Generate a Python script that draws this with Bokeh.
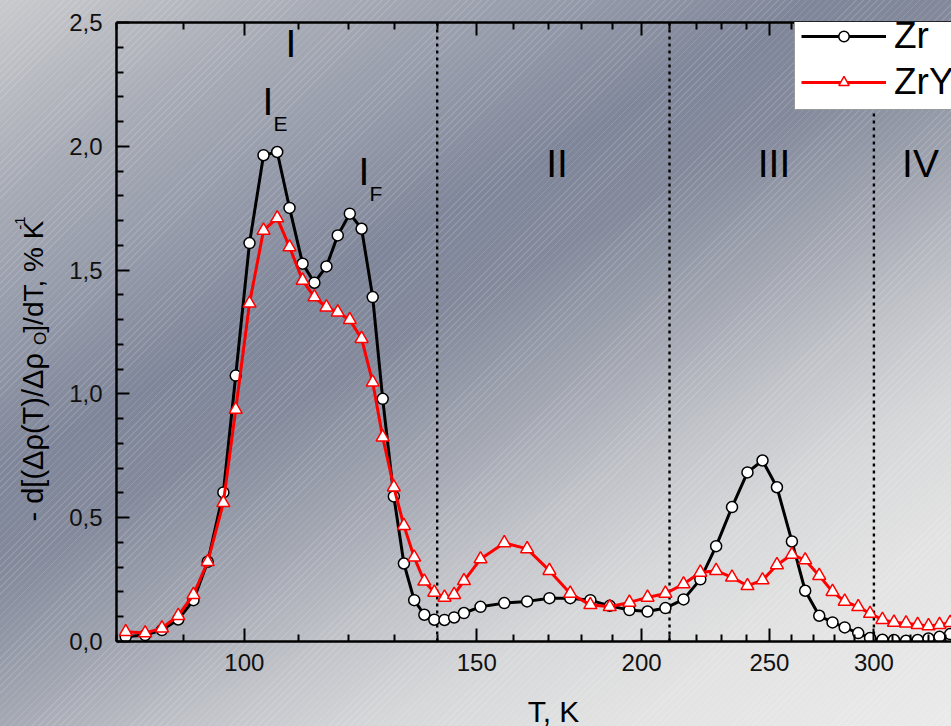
import math
from bokeh.plotting import figure
from bokeh.layouts import column, row
from bokeh.models import (ColumnDataSource, Range1d, FixedTicker, LogAxis, Span, Label,
                          Legend, LegendItem, CustomJSTickFormatter, PrintfTickFormatter)
from bokeh.embed import file_html
from bokeh.resources import INLINE

# ---------------- data ----------------
temperature_K = [81.3, 84.1, 86.6, 89.1, 91.5, 93.8, 96.4, 98.5, 100.9, 103.4,
                 105.9, 108.2, 110.7, 113.0, 115.4, 117.7, 120.2, 122.7, 125.1, 127.3,
                 129.8, 132.1, 134.5, 136.9, 139.3, 141.8, 144.2, 146.7, 151.0, 157.4,
                 163.8, 170.3, 176.6, 182.9, 189.2, 195.8, 202.1, 208.5, 215.2, 221.6,
                 227.8, 234.2, 240.6, 247.0, 253.3, 260.0, 266.1, 272.7, 279.1, 285.1,
                 291.9, 298.0, 304.5, 310.7, 317.3, 323.8, 330.0, 336.4, 342.7]
zr_rate = [0.019, 0.026, 0.046, 0.089, 0.167, 0.322, 0.602, 1.074, 1.609, 1.964,
           1.977, 1.751, 1.526, 1.449, 1.515, 1.640, 1.728, 1.667, 1.391, 0.980,
           0.586, 0.315, 0.167, 0.108, 0.088, 0.087, 0.097, 0.115, 0.140, 0.155,
           0.162, 0.175, 0.175, 0.167, 0.144, 0.127, 0.121, 0.135, 0.170, 0.251,
           0.385, 0.543, 0.683, 0.731, 0.623, 0.404, 0.205, 0.104, 0.077, 0.057,
           0.034, 0.014, 0.007, 0.006, 0.003, 0.006, 0.012, 0.019, 0.030]
zry_rate = [0.039, 0.034, 0.054, 0.104, 0.189, 0.322, 0.560, 0.937, 1.366, 1.660,
            1.710, 1.593, 1.458, 1.391, 1.350, 1.330, 1.299, 1.223, 1.047, 0.825,
            0.623, 0.468, 0.340, 0.243, 0.198, 0.178, 0.189, 0.245, 0.333, 0.398,
            0.374, 0.286, 0.194, 0.148, 0.140, 0.158, 0.178, 0.194, 0.232, 0.279,
            0.286, 0.259, 0.225, 0.248, 0.309, 0.351, 0.329, 0.266, 0.201, 0.162,
            0.140, 0.113, 0.088, 0.077, 0.074, 0.068, 0.063, 0.068, 0.076]

x_major_ticks = [100, 150, 200, 250, 300]
x_minor_ticks = [80, 90, 110, 120, 130, 140, 160, 170, 180, 190, 210, 220, 230, 240,
                 260, 270, 280, 290, 310, 320, 330, 340]
y_major_ticks = [0.0, 0.5, 1.0, 1.5, 2.0, 2.5]
y_minor_ticks = [0.1, 0.2, 0.3, 0.4, 0.6, 0.7, 0.8, 0.9, 1.1, 1.2, 1.3, 1.4,
                 1.6, 1.7, 1.8, 1.9, 2.1, 2.2, 2.3, 2.4]
stage_bounds = [140, 210, 300]
series_names = ["Zr", "ZrY"]

# ---------------- layout (pixels) ----------------
W, H = 951, 726
YLW = 60            # width of the strip holding the y title
XLH = 44            # height of the strip holding the x title
MH = H - XLH        # height of the main figure
FL, FR, FT, FB = 116, 951, 22, 641   # frame box in page pixels
X0, X1 = 80.0, 343.5
Y0, Y1 = 0.0, 2.5
FONT = "Liberation Sans"
MID = 0.35          # distance baseline -> middle of the text box, in em


def tx(px):
    return X0 * (X1 / X0) ** ((px - FL) / (FR - FL))


def ty(py):
    return Y0 + (FB - py) / (FB - FT) * (Y1 - Y0)


p = figure(width=W - YLW, height=MH, x_axis_type="log", title=None,
           x_range=Range1d(X0, X1), y_range=Range1d(Y0, Y1),
           output_backend="svg", toolbar_location=None,
           min_border_left=FL - YLW, min_border_right=W - FR,
           min_border_top=FT, min_border_bottom=MH - FB)

p.background_fill_color = None
p.border_fill_color = None
p.outline_line_color = None
p.xgrid.grid_line_color = None
p.ygrid.grid_line_color = None


def style_axis(ax):
    ax.axis_line_width = 2.5
    ax.axis_line_color = "black"
    ax.major_tick_line_width = 2
    ax.minor_tick_line_width = 2
    ax.major_tick_in = 13
    ax.major_tick_out = 0
    ax.minor_tick_in = 7
    ax.minor_tick_out = 0
    ax.major_label_text_font = FONT
    ax.major_label_text_font_size = "24px"
    ax.major_label_text_color = "#111111"
    ax.major_label_standoff = 12


style_axis(p.xaxis[0])
style_axis(p.yaxis[0])
p.xaxis[0].ticker = FixedTicker(ticks=x_major_ticks, minor_ticks=x_minor_ticks)
p.xaxis[0].formatter = PrintfTickFormatter(format="%d")
p.yaxis[0].ticker = FixedTicker(ticks=y_major_ticks, minor_ticks=y_minor_ticks)
p.yaxis[0].formatter = CustomJSTickFormatter(code="return tick.toFixed(1).replace('.', ',');")
p.yaxis[0].major_label_standoff = 14

top = LogAxis(ticker=FixedTicker(ticks=x_major_ticks, minor_ticks=x_minor_ticks))
style_axis(top)
top.major_label_text_font_size = "0px"
top.major_label_standoff = 0
top.formatter = CustomJSTickFormatter(code="return '';")
p.add_layout(top, "above")

# stage boundaries
for b in stage_bounds:
    s = Span(location=b, dimension="height", line_color="black", line_width=2.4,
             line_dash="3 4", level="underlay")
    p.add_layout(s)

src = ColumnDataSource(dict(T=temperature_K, zr=zr_rate, zry=zry_rate))

l1 = p.line("T", "zr", source=src, line_color="black", line_width=3)
m1 = p.scatter("T", "zr", source=src, marker="circle", size=11, fill_color="white",
               line_color="black", line_width=1.5)
l2 = p.line("T", "zry", source=src, line_color="#ff0000", line_width=3)
m2 = p.scatter("T", "zry", source=src, marker="triangle", size=13, fill_color="white",
               line_color="#ff0000", line_width=1.5)

legend = Legend(items=[LegendItem(label=series_names[0], renderers=[l1, m1]),
                       LegendItem(label=series_names[1], renderers=[l2, m2])],
                location=(678, 531))
legend.label_text_font = FONT
legend.label_text_font_size = "37px"
legend.label_text_color = "black"
legend.glyph_width = 85
legend.glyph_height = 26
legend.label_standoff = 8
legend.padding = 6
legend.spacing = 4
legend.margin = 0
legend.border_line_color = "#333333"
legend.border_line_width = 1.5
legend.background_fill_color = "white"
legend.background_fill_alpha = 1.0
p.add_layout(legend, "center")


def lab(text, cx, baseline, size):
    # centred text; cx = horizontal centre, baseline = page pixel of the baseline
    p.add_layout(Label(x=tx(cx), y=ty(baseline - MID * size), x_units="data", y_units="data",
                       text=text, text_font=FONT, text_font_size=f"{size}px",
                       text_color="black", text_align="center", text_baseline="middle"))


# stage annotations
lab("I", 290.5, 57, 39)
lab("I", 267.5, 115, 39)
lab("E", 280, 130, 21)
lab("I", 363.5, 185, 39)
lab("F", 375.4, 200, 21)
lab("II", 556.5, 177, 39)
lab("III", 773.5, 177, 39)
lab("IV", 920, 177, 39)


def strip(w, h):
    f = figure(width=w, height=h, x_range=Range1d(0, w), y_range=Range1d(0, h),
               title=None, output_backend="svg", toolbar_location=None,
               x_axis_location=None, y_axis_location=None, min_border=0)
    f.background_fill_color = None
    f.border_fill_color = None
    f.outline_line_color = None
    f.xgrid.visible = False
    f.ygrid.visible = False
    return f


def put(f, h, text, cx, cy, size, angle=0.0):
    # cx, cy: centre of the text box, pixels from the strip's top-left corner
    f.add_layout(Label(x=cx, y=h - cy, text=text, text_font=FONT, text_font_size=f"{size}px",
                       text_color="black", text_align="center", text_baseline="middle",
                       angle=angle))


# y title strip: rotated pieces (text, size, baseline x, centre y along the page)
yf = strip(YLW, MH)
A = math.pi / 2
pieces = [
    ("- d[(Δρ(T)/Δρ", 29, 43, 457.0),
    ("O", 17, 46, 348.0),
    ("]/dT, % K", 28, 43, 280.0),
    ("-1", 15, 25, 221.0),
]
for text, size, bx, cy in pieces:
    put(yf, MH, text, bx - MID * size, cy, size, A)

# x title strip
xf = strip(W, XLH)
put(xf, XLH, "T, K", 553, 721 - MID * 30 - MH, 30)

layout = column(row(yf, p, spacing=0), xf, spacing=0)
layout.styles = {
    "background": (
        "repeating-linear-gradient(135deg, rgba(255,255,255,0.13) 0px, "
        "rgba(255,255,255,0.13) 1px, rgba(255,255,255,0) 1px, rgba(255,255,255,0) 5px), "
        "linear-gradient(150deg, #c9cacd 0%, #a7abb5 15%, #979cab 25%, #7f8699 37%, "
        "#848a9c 45%, #a2a6b1 56%, #c0c2c8 65%, #d6d7d9 74%, #e3e3e3 85%, #eaeaea 100%)"
    ),
    "width": f"{W}px",
    "height": f"{H}px",
}

open("out.html", "w").write(file_html(layout, INLINE))
